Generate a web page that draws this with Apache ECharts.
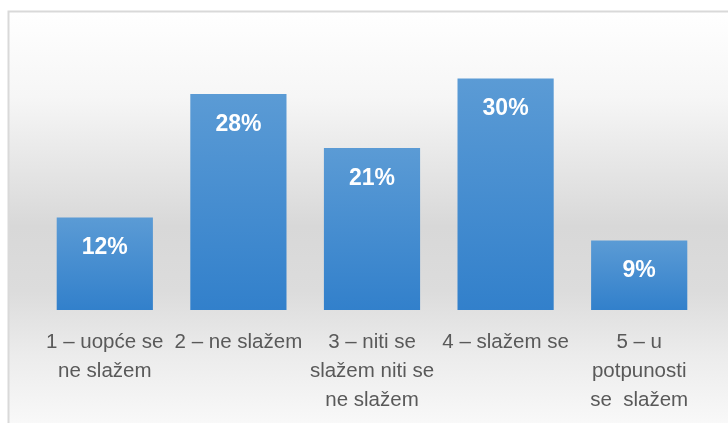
<!DOCTYPE html>
<html>
<head>
<meta charset="utf-8">
<script src="https://cdn.jsdelivr.net/npm/echarts@6/dist/echarts.min.js"></script>
<style>
html, body { margin: 0; padding: 0; background: #fff; }
#chart { width: 728px; height: 423px; }
</style>
</head>
<body>
<div id="chart"></div>
<script>
// answer categories and share of answers (%)
var categories = [
  '1 – uopće se\nne slažem',
  '2 – ne slažem',
  '3 – niti se\nslažem niti se\nne slažem',
  '4 – slažem se',
  '5 – u\npotpunosti\nse  slažem'
]
var values = [12, 28, 21, 30, 9]

var chart = echarts.init(document.getElementById('chart'))

var option = {
  animation: false,
  graphic: [
    {
      type: 'rect',
      z: -10,
      shape: { x: 8.5, y: 11.5, width: 740, height: 430 },
      style: {
        fill: new echarts.graphic.LinearGradient(0, 0, 0, 1, [
          { offset: 0, color: '#ffffff' },
          { offset: 0.2, color: '#f6f6f6' },
          { offset: 0.5, color: '#d8d8d8' },
          { offset: 0.65, color: '#dcdcdc' },
          { offset: 0.8, color: '#ececec' },
          { offset: 1, color: '#fcfcfc' }
        ]),
        stroke: '#d9d9d9',
        lineWidth: 2
      }
    }
  ],
  grid: {
    left: 38,
    right: 22,
    top: 40,
    bottom: 113,
    containLabel: false
  },
  xAxis: {
    type: 'category',
    data: categories,
    axisLine: { show: false },
    axisTick: { show: false },
    axisLabel: {
      interval: 0,
      hideOverlap: false,
      margin: 18,
      color: '#595959',
      fontFamily: 'Liberation Sans',
      fontSize: 20.5,
      lineHeight: 29
    }
  },
  yAxis: {
    type: 'value',
    min: 0,
    max: 35,
    show: false,
    splitLine: { show: false }
  },
  series: [
    {
      type: 'bar',
      data: values,
      barCategoryGap: '28%',
      itemStyle: {
        color: new echarts.graphic.LinearGradient(0, 0, 0, 1, [
          { offset: 0, color: '#5b9bd5' },
          { offset: 1, color: '#3280cb' }
        ])
      },
      label: {
        show: true,
        position: 'insideTop',
        distance: 19,
        formatter: '{c}%',
        color: '#ffffff',
        fontFamily: 'Liberation Sans',
        fontWeight: 'bold',
        fontSize: 23
      }
    }
  ]
}

chart.setOption(option)
</script>
</body>
</html>
